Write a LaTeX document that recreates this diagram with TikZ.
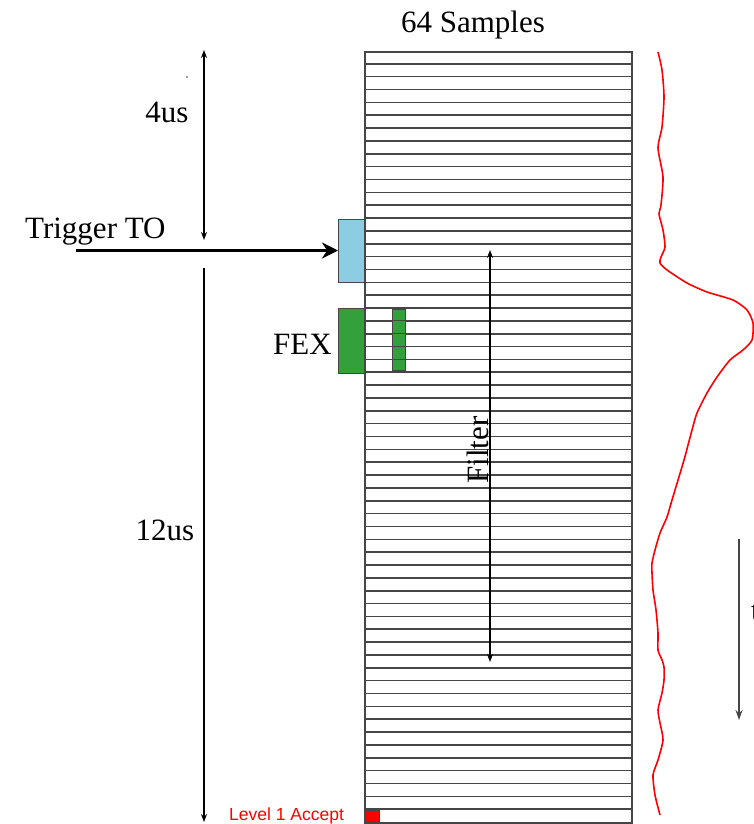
\documentclass[tikz,border=0pt]{standalone}
\usepackage{fontspec}
\setmainfont{Liberation Serif}
\newfontfamily\arialfont{Liberation Sans}
\usetikzlibrary{arrows.meta}
\definecolor{rowgray}{RGB}{70,70,70}
\definecolor{skyb}{RGB}{140,205,228}
\definecolor{fexgreen}{RGB}{52,160,60}
\begin{document}
\begin{tikzpicture}[x=1pt,y=-1pt,
  lbl/.style={inner sep=0pt,font=\fontsize{31}{36}\selectfont},
  dimarrow/.style={line width=1.3pt,black},
  smallhead/.style={-{Stealth[length=8pt,width=6pt]}},
  bothhead/.style={{Stealth[length=8pt,width=6pt]}-{Stealth[length=8pt,width=6pt]}},
  buffer/.style={draw=rowgray,line width=1.6pt},
]
\useasboundingbox (0,0) rectangle (754,824);

% buffer of 60 rows
\foreach \i in {1,...,59} {
  \draw[buffer] (364,{51+\i*12.85}) -- (631,{51+\i*12.85});
}
\node[draw=rowgray,line width=1.8pt,minimum width=267pt,minimum height=771pt,inner sep=0pt,anchor=north west] (buf) at (364,51) {};

% boxes
\node[draw=rowgray,line width=1pt,fill=skyb,minimum width=26pt,minimum height=63pt,inner sep=0pt,anchor=north west] (t0box) at (338,219) {};
\node[draw=rowgray,line width=1pt,fill=fexgreen,minimum width=26pt,minimum height=65pt,inner sep=0pt,anchor=north west] (fexbox) at (338,308) {};
\node[draw=rowgray,line width=1pt,fill=fexgreen,minimum width=13pt,minimum height=61pt,inner sep=0pt,anchor=north west] (fexcol) at (392,309) {};
\foreach \y in {320.6,333.5,346.3,359.2} {
  \draw[rowgray,line width=1.2pt] (392,\y) -- (405,\y);
}
\node[draw=rowgray,line width=0.8pt,fill=red,minimum width=14pt,minimum height=11pt,inner sep=0pt,anchor=south west] (l1box) at (365,822) {};

% labels
\node[lbl,anchor=base] (samples) at (473,33) {64 Samples};
\node[lbl,anchor=base] (fourus) at (167,122) {4us};
\node[lbl,anchor=base west] (trig) at (25,238) {Trigger TO};
\node[lbl,anchor=base] (twelveus) at (165,540) {12us};
\node[lbl,anchor=base east] (fex) at (332,354) {FEX};
\node[lbl,rotate=90] (filter) at (478,450) {Filter};
\node[inner sep=0pt,anchor=base west,text=red,font=\arialfont\fontsize{17.5}{20}\selectfont] (l1) at (229,820) {Level 1 Accept};
\node[lbl,anchor=base west] (tlab) at (751,620) {t};

% coordinates for arrows
\coordinate (a4t) at (204,50);
\coordinate (a4b) at (204,240);
\coordinate (a12t) at (204,268);
\coordinate (a12b) at (204,822);
\coordinate (trigs) at (76,250.5);
\coordinate (ft) at (490,250);
\coordinate (fb) at (490,662);
\coordinate (rt) at (739,539);
\coordinate (rb) at (739,720);
\coordinate (dot) at (187,77);

% arrows
\draw[dimarrow,bothhead] (a4t) -- (a4b);
\draw[dimarrow,smallhead] (a12t) -- (a12b);
\draw[line width=3.2pt,-{Stealth[length=16pt,width=16pt]}] (trigs) -- (t0box.west |- trigs);
\draw[dimarrow,bothhead] (ft) -- (fb);
\draw[line width=1.6pt,rowgray,-{Stealth[length=10pt,width=7pt]}] (rt) -- (rb);
\fill[gray] (dot) circle (1.2pt);

% red pulse shape
\draw[red,line width=1.6pt,line join=round] plot[smooth,tension=0.4] coordinates {
 (658,52) (662,70) (664,97) (662,127) (658,148) (663,177) (661,205) (659,214)
 (663,230) (665,247) (661,257) (660,263) (667,270) (687,283) (707,292) (733,300)
 (747,310) (753,323) (752,340) (743,350) (730,360) (717,377) (707,393) (697,413)
 (692,430) (684,460) (672,500) (667,517) (660,533) (655,550) (652,563) (652,573)
 (653,590) (656,610) (658,633) (658,650) (662,660) (664,667) (664,680) (662,693)
 (658,710) (660,723) (663,740) (658,760) (653,775) (655,795) (660,815)
};
\end{tikzpicture}
\end{document}
